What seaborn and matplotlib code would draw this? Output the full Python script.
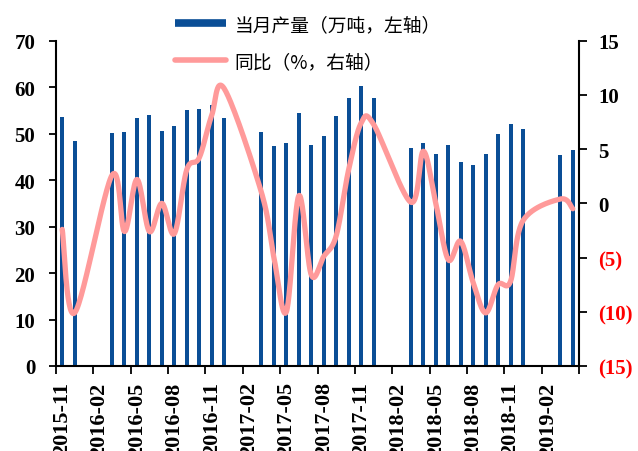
import numpy as np
import pandas as pd
import matplotlib
matplotlib.use("Agg")
import matplotlib.pyplot as plt
import seaborn as sns
from matplotlib.lines import Line2D

months = ["2015-11", "2015-12",
          "2016-01", "2016-02", "2016-03", "2016-04", "2016-05", "2016-06",
          "2016-07", "2016-08", "2016-09", "2016-10", "2016-11", "2016-12",
          "2017-01", "2017-02", "2017-03", "2017-04", "2017-05", "2017-06",
          "2017-07", "2017-08", "2017-09", "2017-10", "2017-11", "2017-12",
          "2018-01", "2018-02", "2018-03", "2018-04", "2018-05", "2018-06",
          "2018-07", "2018-08", "2018-09", "2018-10", "2018-11", "2018-12",
          "2019-01", "2019-02", "2019-03", "2019-04"]

production = [53.6, 48.5,
              None, None, 50.2, 50.3, 53.3, 54.1, 50.6, 51.6, 55.1, 55.4, 56.1, 53.4,
              None, None, 50.4, 47.4, 48.0, 54.4, 47.5, 49.4, 53.7, 57.7, 60.2, 57.6,
              None, None, 46.9, 48.0, 45.7, 47.5, 43.9, 43.2, 45.6, 50.0, 52.0, 51.0,
              None, None, 45.3, 46.5]

yoy = [-2.4, -10.1,
       None, None, 2.6, -2.6, 2.2, -2.6, 0.0, -2.8, 3.1, 4.2, 8.1, 10.6,
       None, None, 1.0, -5.0, -10.0, 0.7, -6.6, -4.9, -3.0, 3.1, 7.4, 7.3,
       None, None, 0.1, 4.8, 0.0, -5.2, -3.5, -7.3, -10.1, -7.5, -7.2, -1.6,
       None, None, 0.4, -0.5]

left_ticks = [0, 10, 20, 30, 40, 50, 60, 70]
right_ticks = [-15, -10, -5, 0, 5, 10, 15]
right_labels = ["(15)", "(10)", "(5)", "0", "5", "10", "15"]

bar_label = "当月产量（万吨，左轴）"
line_label = "同比（%，右轴）"

bar_color = "#0A4E96"
line_color = "#FF9A9A"

df = pd.DataFrame({"month": months, "prod": production, "yoy": yoy})
bars = df.dropna(subset=["prod"])

fig = plt.figure(figsize=(6.38, 4.52), dpi=100)
ax = fig.add_axes([56 / 638, 1 - 367 / 452, (579 - 56) / 638, (367 - 41.7) / 452])

sns.barplot(data=bars, x="month", y="prod", order=months, color=bar_color,
            saturation=1, width=0.32, ax=ax, errorbar=None)

# smooth line (Catmull-Rom through valid points, like Excel's smoothed line)
idx = np.array([i for i, v in enumerate(yoy) if v is not None], dtype=float)
val = np.array([v for v in yoy if v is not None], dtype=float)
pts = np.column_stack([idx, val])
xs, ys = [], []
n = len(pts)
for i in range(n - 1):
    p0 = pts[i - 1] if i > 0 else pts[i]
    p1 = pts[i]
    p2 = pts[i + 1]
    p3 = pts[i + 2] if i + 2 < n else pts[i + 1]
    c1 = p1 + (p2 - p0) / 6
    c2 = p2 - (p3 - p1) / 6
    t = np.linspace(0, 1, 30)[:, None]
    seg = ((1 - t) ** 3) * p1 + 3 * ((1 - t) ** 2) * t * c1 + 3 * (1 - t) * t ** 2 * c2 + t ** 3 * p2
    xs.extend(seg[:, 0])
    ys.extend(seg[:, 1])

ax2 = ax.twinx()
sns.lineplot(x=np.array(xs), y=np.array(ys), ax=ax2, color=line_color, lw=3.8,
             sort=False, estimator=None, solid_capstyle="round")

ax.set_xlim(-0.5, len(months) - 0.5)
ax.set_ylim(0, 70)
ax2.set_ylim(-15, 15)

tick_font = dict(family="Liberation Serif", weight="bold", size=15)
x_font = dict(family="Liberation Serif", weight="bold", size=16)

ax.set_yticks(left_ticks)
ax.set_yticklabels([str(t) for t in left_ticks], **tick_font)
ax2.set_yticks(right_ticks)
ax2.set_yticklabels(right_labels, **tick_font)
for lab, t in zip(ax2.get_yticklabels(), right_ticks):
    lab.set_color("#FF0000" if t < 0 else "black")

label_pos = list(range(0, len(months), 3))
ax.set_xticks(label_pos)
ax.set_xticklabels([months[i] for i in label_pos], rotation=90, **x_font)
ax.set_xticks(np.arange(-0.5, len(months), 3), minor=True)
ax.tick_params(axis="x", which="major", length=0, pad=11)
ax.tick_params(axis="x", which="minor", length=6, width=1.3, direction="out")
ax.tick_params(axis="y", length=5, width=1.3, direction="out", pad=10)
ax2.tick_params(axis="y", length=6, width=1.3, direction="out", pad=8)

ax.set_xlabel("")
ax.set_ylabel("")
ax2.set_ylabel("")
for a in (ax, ax2):
    a.spines["top"].set_visible(False)
    for s in ("left", "right", "bottom"):
        a.spines[s].set_linewidth(1.5)
        a.spines[s].set_color("black")
ax.spines["right"].set_visible(False)
ax2.spines["left"].set_visible(False)
ax2.spines["bottom"].set_visible(False)
ax.set_facecolor("none")

handles = [Line2D([], [], color=bar_color, lw=5.5, solid_capstyle="butt"),
           Line2D([], [], color=line_color, lw=4, solid_capstyle="round")]
fig.legend(handles, [bar_label, line_label], loc="upper left",
           bbox_to_anchor=(158 / 638, 1 + 2 / 452), frameon=False,
           prop=dict(family=["Noto Sans CJK SC", "DejaVu Sans"], size=13.5),
           handlelength=2.7, handletextpad=0.5, labelspacing=0.85)

fig.savefig("out.png", dpi=100)
